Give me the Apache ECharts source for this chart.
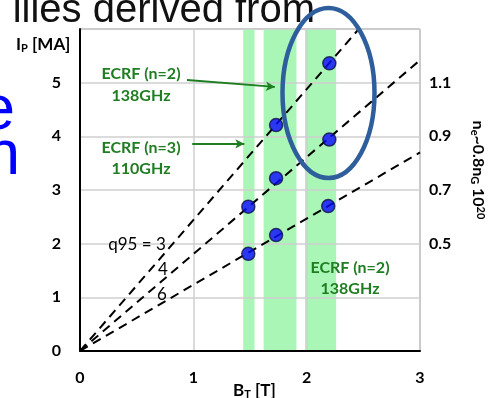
<!DOCTYPE html>
<html>
<head>
<meta charset="utf-8">
<script src="https://cdn.jsdelivr.net/npm/echarts@6/dist/echarts.min.js"></script>
<style>
  html, body { margin: 0; padding: 0; background: #fff; }
  #main { width: 490px; height: 398px; }
</style>
</head>
<body>
<div id="main"></div>
<script>
// axis ticks
const xTicks = [0, 1, 2, 3]
const rightLabels = { 2: '0.5', 3: '0.7', 4: '0.9', 5: '1.1' }

// ECRF access windows (B_T ranges)
const bands = [[1.44, 1.54], [1.62, 1.91], [1.985, 2.26]]

// q95 lines from the origin
const q3Line = [[0, 0], [2.46, 6]]
const q4Line = [[0, 0], [3, 5.42]]
const q6Line = [[0, 0], [3, 3.7]]

// operating points
const q3Points = [[1.73, 4.21], [2.2, 5.36]]
const q4Points = [[1.485, 2.69], [1.73, 3.22], [2.2, 3.94]]
const q6Points = [[1.485, 1.81], [1.73, 2.16], [2.19, 2.70]]

// arrows for the ECRF labels
const arrowN2 = [[0.944, 5.05], [1.72, 4.92]]
const arrowN3 = [[0.99, 3.86], [1.45, 3.86]]

const chart = echarts.init(document.getElementById('main'))

const lab = { fontFamily: 'Lato', fontWeight: 'bold', fontSize: 16, color: '#000' }
const green = '#1f7d22'
const sub = { fontSize: 11, fontWeight: 'bold', fontFamily: 'Lato', verticalAlign: 'bottom', padding: [6, 0, 0, 0] }
const sup = { fontSize: 11, fontWeight: 'bold', fontFamily: 'Lato', verticalAlign: 'top', padding: [0, 0, 6, 0] }

const lineSeries = (data) => ({
  type: 'line',
  data: data,
  symbol: 'none',
  z: 3,
  silent: true,
  lineStyle: { color: '#000', width: 2, type: [9, 6] }
})

const dotSeries = (data) => ({
  type: 'scatter',
  data: data,
  symbol: 'circle',
  symbolSize: 13,
  z: 4,
  itemStyle: { color: '#0a0aff', borderColor: '#10104a', borderWidth: 1.5 }
})

chart.setOption({
  animation: false,
  grid: { left: 80, right: 70, top: 29, bottom: 47, show: true, borderColor: '#808080', borderWidth: 1 },
  xAxis: {
    type: 'value', min: 0, max: 3, interval: 1, z: 2,
    axisLine: { show: true, lineStyle: { color: '#000', width: 2 } },
    axisTick: { show: false },
    splitLine: { lineStyle: { color: '#cfcfcf', width: 1.5 } },
    axisLabel: { ...lab, margin: 19, formatter: v => xTicks.includes(v) ? String(v) : '' }
  },
  yAxis: [
    {
      type: 'value', min: 0, max: 6, interval: 1, z: 2,
      axisLine: { show: true, lineStyle: { color: '#000', width: 2 } },
      axisTick: { show: false },
      splitLine: { lineStyle: { color: '#cfcfcf', width: 1.5 } },
      axisLabel: { ...lab, margin: 19, formatter: v => v === 6 ? '' : String(v) }
    },
    {
      type: 'value', min: 0, max: 6, interval: 1, position: 'right',
      axisLine: { show: false },
      axisTick: { show: false },
      splitLine: { show: false },
      axisLabel: { ...lab, margin: 9, padding: [8, 0, 0, 0], formatter: v => rightLabels[v] || '' }
    }
  ],
  series: [
    {
      type: 'line', data: [], z: 1, silent: true,
      markArea: {
        silent: true,
        itemStyle: { color: '#aaf6b6' },
        data: bands.map(b => [{ xAxis: b[0] }, { xAxis: b[1] }])
      },
      markLine: {
        silent: true,
        symbol: ['none', 'arrow'],
        symbolSize: [7, 9],
        label: { show: false },
        lineStyle: { color: green, width: 1.8, type: 'solid' },
        data: [arrowN2, arrowN3].map(a => [{ coord: a[0] }, { coord: a[1] }])
      }
    },
    lineSeries(q3Line),
    lineSeries(q4Line),
    lineSeries(q6Line),
    dotSeries(q3Points),
    dotSeries(q4Points),
    dotSeries(q6Points)
  ],
  graphic: [
    // slide text around the figure
    { type: 'text', x: 315, y: 10.5, z: 10, style: { text: 'ilies derived from', font: '40px "Liberation Sans"', fill: '#111', align: 'right', verticalAlign: 'middle' } },
    { type: 'text', x: 15, y: 112, z: 10, style: { text: 'e', font: '63px "Liberation Sans"', fill: '#0000ff', align: 'right', verticalAlign: 'middle' } },
    { type: 'text', x: 20, y: 157, z: 10, style: { text: 'n', font: '63px "Liberation Sans"', fill: '#0000ff', align: 'right', verticalAlign: 'middle' } },
    // axis names
    {
      type: 'text', x: 16, y: 45, z: 10,
      style: { text: 'I{s|P} [MA]', align: 'left', verticalAlign: 'middle', font: 'bold 17px Lato', fill: '#000', rich: { s: sub } }
    },
    {
      type: 'text', x: 233, y: 391, z: 10,
      style: { text: 'B{s|T} [T]', align: 'left', verticalAlign: 'middle', font: 'bold 17px Lato', fill: '#000', rich: { s: sub } }
    },
    {
      type: 'text', x: 478, y: 170, z: 10, rotation: -Math.PI / 2,
      style: { text: 'n{s|e}~0.8n{s|G} 10{p|20}', align: 'center', verticalAlign: 'middle', font: 'bold 16px Lato', fill: '#000', rich: { s: sub, p: sup } }
    },
    // ECRF labels
    { type: 'text', x: 141, y: 85, z: 10, style: { text: 'ECRF (n=2)\n138GHz', font: 'bold 16px Lato', fill: green, align: 'center', verticalAlign: 'middle', lineHeight: 22 } },
    { type: 'text', x: 141, y: 158, z: 10, style: { text: 'ECRF (n=3)\n110GHz', font: 'bold 16px Lato', fill: green, align: 'center', verticalAlign: 'middle', lineHeight: 21 } },
    { type: 'text', x: 350, y: 278, z: 10, style: { text: 'ECRF (n=2)\n138GHz', font: 'bold 16px Lato', fill: green, align: 'center', verticalAlign: 'middle', lineHeight: 21 } },
    // q95 labels
    { type: 'text', x: 137, y: 245, z: 10, style: { text: 'q95 = 3', font: '17px Lato', fill: '#000', align: 'center', verticalAlign: 'middle' } },
    { type: 'text', x: 163, y: 270, z: 10, style: { text: '4', font: '17px Lato', fill: '#000', align: 'center', verticalAlign: 'middle' } },
    { type: 'text', x: 162, y: 295, z: 10, style: { text: '6', font: '17px Lato', fill: '#000', align: 'center', verticalAlign: 'middle' } },
    // highlight ellipse
    { type: 'ellipse', z: 20, shape: { cx: 328.5, cy: 93, rx: 46, ry: 85 }, style: { fill: null, stroke: '#2f5e9c', lineWidth: 4.5 } }
  ]
})
</script>
</body>
</html>
